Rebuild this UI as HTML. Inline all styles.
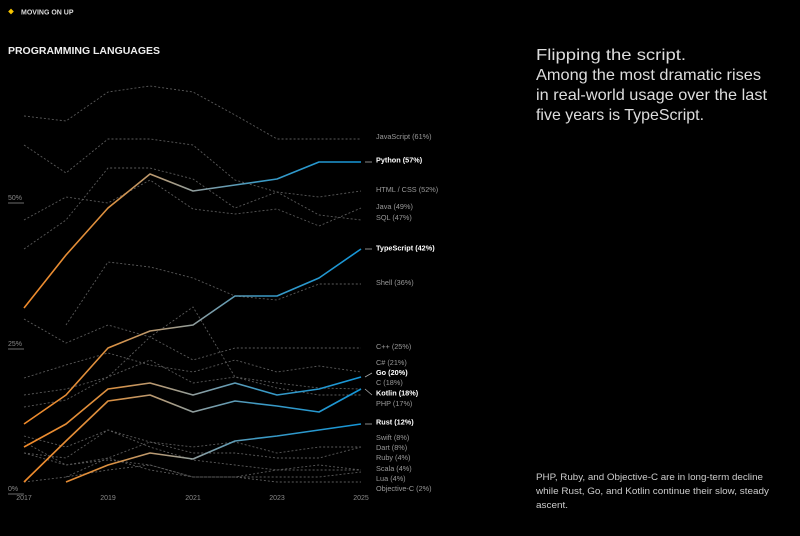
<!DOCTYPE html>
<html><head><meta charset="utf-8"><style>
html,body{margin:0;padding:0;background:#000;}
svg{display:block;font-family:"Liberation Sans",sans-serif;}
</style></head><body>
<svg width="800" height="536" viewBox="0 0 800 536" xmlns="http://www.w3.org/2000/svg">
<defs>
<linearGradient id="g" gradientUnits="userSpaceOnUse" x1="24" y1="0" x2="361" y2="0">
<stop offset="0" stop-color="#f08a2a"/>
<stop offset="0.25" stop-color="#dc9040"/>
<stop offset="0.4" stop-color="#b59b78"/>
<stop offset="0.52" stop-color="#8a9ea3"/>
<stop offset="0.7" stop-color="#3d9ac4"/>
<stop offset="1" stop-color="#1496d8"/>
</linearGradient>
</defs>
<rect width="800" height="536" fill="#000"/>
<rect x="9" y="9.5" width="4" height="4" fill="#f5c400" transform="rotate(45 11 11.5)"/>
<text x="21" y="14.5" fill="#ddd" font-size="7" font-weight="bold">MOVING ON UP</text>
<text x="8" y="54" fill="#eee" font-size="10.5" font-weight="bold" textLength="152" lengthAdjust="spacingAndGlyphs">PROGRAMMING LANGUAGES</text>

<g fill="#ddd" font-size="16" lengthAdjust="spacingAndGlyphs">
<text x="536" y="60" textLength="150" lengthAdjust="spacingAndGlyphs">Flipping the script.</text>
<text x="536" y="80" textLength="225" lengthAdjust="spacingAndGlyphs">Among the most dramatic rises</text>
<text x="536" y="100" textLength="231" lengthAdjust="spacingAndGlyphs">in real-world usage over the last</text>
<text x="536" y="120" textLength="168" lengthAdjust="spacingAndGlyphs">five years is TypeScript.</text>
</g>
<g fill="#ccc" font-size="9.5">
<text x="536" y="480" textLength="227" lengthAdjust="spacingAndGlyphs">PHP, Ruby, and Objective-C are in long-term decline</text>
<text x="536" y="494" textLength="233" lengthAdjust="spacingAndGlyphs">while Rust, Go, and Kotlin continue their slow, steady</text>
<text x="536" y="508" textLength="32" lengthAdjust="spacingAndGlyphs">ascent.</text>
</g>

<g fill="#888" font-size="7">
<text x="8" y="200">50%</text><line x1="8" y1="203" x2="24" y2="203" stroke="#888" stroke-width="0.8"/>
<text x="8" y="346">25%</text><line x1="8" y1="349" x2="24" y2="349" stroke="#888" stroke-width="0.8"/>
<text x="8" y="491">0%</text><line x1="8" y1="494" x2="24" y2="494" stroke="#888" stroke-width="0.8"/>
<text x="24" y="500" text-anchor="middle">2017</text>
<text x="108" y="500" text-anchor="middle">2019</text>
<text x="193" y="500" text-anchor="middle">2021</text>
<text x="277" y="500" text-anchor="middle">2023</text>
<text x="361" y="500" text-anchor="middle">2025</text>
</g>

<g fill="none" stroke="#5a5a5a" stroke-width="0.9" stroke-dasharray="2 2">
<polyline points="24,116 66,121 108,92 150,86 193,92 235,115 277,139 319,139 361,139"/>
<polyline points="24,145 66,173 108,139 150,139 193,145 235,180 277,192 319,215 361,220"/>
<polyline points="24,220 66,197 108,203 150,180 193,209 235,214 277,209 319,226 361,208"/>
<polyline points="24,249 66,220 108,168 150,168 193,179 235,208 277,192 319,197 361,191"/>
<polyline points="66,325 108,262 150,267 193,278 235,296 277,300 319,284 361,284"/>
<polyline points="24,319 66,343 108,325 150,337 193,360 235,348 277,348 319,348 361,348"/>
<polyline points="24,378 66,365 108,353 150,365 193,372 235,360 277,372 319,366 361,372"/>
<polyline points="24,407 66,400 108,377 150,337 193,307 235,377 277,388 319,395 361,395"/>
<polyline points="24,395 66,389 108,377 150,360 193,383 235,377 277,383 319,388 361,389"/>
<polyline points="24,436 66,447 108,430 150,442 193,447 235,442 277,453 319,447 361,447"/>
<polyline points="24,442 66,465 108,458 150,442 193,453 235,453 277,458 319,458 361,447"/>
<polyline points="24,453 66,458 108,430 150,447 193,460 235,465 277,470 319,465 361,470"/>
<polyline points="24,482 66,477 108,470 150,465 193,477 235,477 277,470 319,470 361,470"/>
<polyline points="66,477 108,458 150,470 193,477 235,477 277,477 319,477 361,472"/>
<polyline points="24,453 66,465 108,460 150,465 193,477 235,477 277,482 319,482 361,482"/>
</g>

<g fill="none" stroke="url(#g)" stroke-width="1.6" stroke-linejoin="round">
<polyline points="24,308 66,255 108,208 150,174 193,191 235,185 277,179 319,162 361,162"/>
<polyline points="24,424 66,395 108,348 150,331 193,325 235,296 277,296 319,278 361,249"/>
<polyline points="24,447 66,424 108,389 150,383 193,395 235,383 277,395 319,389 361,377"/>
<polyline points="24,482 66,441 108,401 150,395 193,412 235,401 277,406 319,412 361,389"/>
<polyline points="66,482 108,465 150,453 193,459 235,441 277,436 319,430 361,424"/>
</g>
<g stroke="#aaa" stroke-width="0.8">
<line x1="365" y1="162" x2="372" y2="162"/>
<line x1="365" y1="249" x2="372" y2="249"/>
<line x1="365" y1="377" x2="372" y2="373"/>
<line x1="365" y1="389" x2="372" y2="395"/>
<line x1="365" y1="424" x2="372" y2="424"/>
</g>

<g fill="#999" font-size="7.3">
<text x="376" y="139">JavaScript (61%)</text>
<text x="376" y="192">HTML / CSS (52%)</text>
<text x="376" y="209">Java (49%)</text>
<text x="376" y="220">SQL (47%)</text>
<text x="376" y="285">Shell (36%)</text>
<text x="376" y="349">C++ (25%)</text>
<text x="376" y="365">C# (21%)</text>
<text x="376" y="385">C (18%)</text>
<text x="376" y="406">PHP (17%)</text>
<text x="376" y="440">Swift (8%)</text>
<text x="376" y="450">Dart (8%)</text>
<text x="376" y="460">Ruby (4%)</text>
<text x="376" y="471">Scala (4%)</text>
<text x="376" y="481">Lua (4%)</text>
<text x="376" y="491">Objective-C (2%)</text>
</g>
<g fill="#fff" font-size="7.3" font-weight="bold">
<text x="376" y="162.5">Python (57%)</text>
<text x="376" y="250.5">TypeScript (42%)</text>
<text x="376" y="375">Go (20%)</text>
<text x="376" y="395.5">Kotlin (18%)</text>
<text x="376" y="424.5">Rust (12%)</text>
</g>
</svg>
</body></html>
